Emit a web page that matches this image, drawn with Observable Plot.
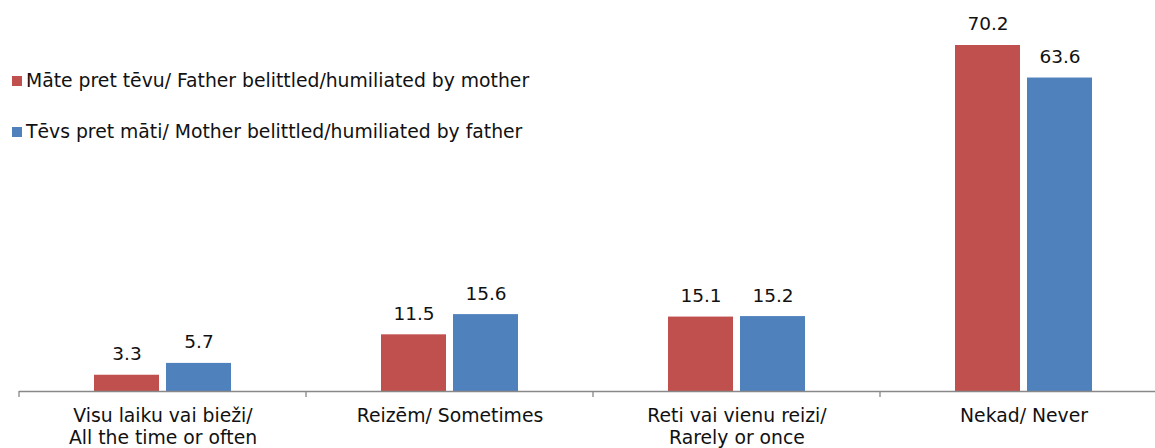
<!DOCTYPE html>
<html>
<head>
<meta charset="utf-8">
<script src="https://cdn.jsdelivr.net/npm/d3@7"></script>
<script src="https://cdn.jsdelivr.net/npm/@observablehq/plot@0.6"></script>
<style>
  html, body { margin: 0; padding: 0; background: #fff; }
  #wrap { position: relative; width: 1155px; height: 448px; font-family: "DejaVu Sans", Verdana, sans-serif; }
  #wrap svg { position: absolute; left: 0; top: 0; }
  .legend { position: absolute; left: 12px; font-size: 18.8px; line-height: 22px; color: #111; display: flex; align-items: center; white-space: nowrap; }
  .legend .sw { width: 10px; height: 10px; margin-right: 4px; display: inline-block; }
</style>
</head>
<body>
<div id="wrap"></div>
<script>
const categories = [
  "Visu laiku vai bieži/\nAll the time or often",
  "Reizēm/ Sometimes",
  "Reti vai vienu reizi/\nRarely or once",
  "Nekad/ Never"
];
const seriesNames = [
  "Māte pret tēvu/ Father belittled/humiliated by mother",
  "Tēvs pret māti/ Mother belittled/humiliated by father"
];
const seriesColors = ["#C0504D", "#4F81BD"];
const motherValues = [3.3, 11.5, 15.1, 70.2];
const fatherValues = [5.7, 15.6, 15.2, 63.6];

const data = [];
categories.forEach((c, i) => {
  data.push({category: c, series: seriesNames[0], value: motherValues[i]});
  data.push({category: c, series: seriesNames[1], value: fatherValues[i]});
});

const plot = Plot.plot({
  width: 1155,
  height: 448,
  marginTop: 45,
  marginBottom: 57,
  marginLeft: 18,
  marginRight: -13,
  style: {fontFamily: "'DejaVu Sans', Verdana, sans-serif", fontSize: "18px", color: "#111", background: "transparent"},
  fx: {domain: categories, paddingInner: 0, paddingOuter: 0, label: null},
  x: {domain: seriesNames, paddingInner: 7 / 73, paddingOuter: 1.017, axis: null},
  y: {domain: [0, d3.max([...motherValues, ...fatherValues])], axis: null},
  color: {domain: seriesNames, range: seriesColors},
  marks: [
    Plot.barY(data, {fx: "category", x: "series", y: "value", fill: "series"}),
    Plot.text(data, {fx: "category", x: "series", y: "value", text: d => d.value.toFixed(1), dy: -21, fontSize: 18.5, fill: "#111"}),
    Plot.ruleY([0], {stroke: "#888", strokeWidth: 1.3}),
    Plot.axisFx({anchor: "bottom", tickSize: 0, tickPadding: 16, lineHeight: 1.12, fontSize: 18.8, label: null, fill: "#111"})
  ]
});

document.getElementById("wrap").appendChild(plot);

// tick marks at category boundaries, placed with the fx scale
const fx = plot.scale("fx");
const yScale = plot.scale("y");
const y0 = yScale.apply(0);
const bounds = categories.map(c => fx.apply(c));
bounds.push(fx.apply(categories[categories.length - 1]) + fx.bandwidth);
const svg = d3.select(plot);
svg.append("g").selectAll("line").data(bounds).join("line")
  .attr("x1", d => d).attr("x2", d => d)
  .attr("y1", y0).attr("y2", y0 + 6)
  .attr("stroke", "#888").attr("stroke-width", 1.3);

// legend overlaid at top-left
const legendTops = [70, 121];
seriesNames.forEach((s, i) => {
  const row = document.createElement("div");
  row.className = "legend";
  row.style.top = legendTops[i] + "px";
  row.innerHTML = `<span class="sw" style="background:${seriesColors[i]}"></span><span>${s}</span>`;
  document.getElementById("wrap").appendChild(row);
});
</script>
</body>
</html>
